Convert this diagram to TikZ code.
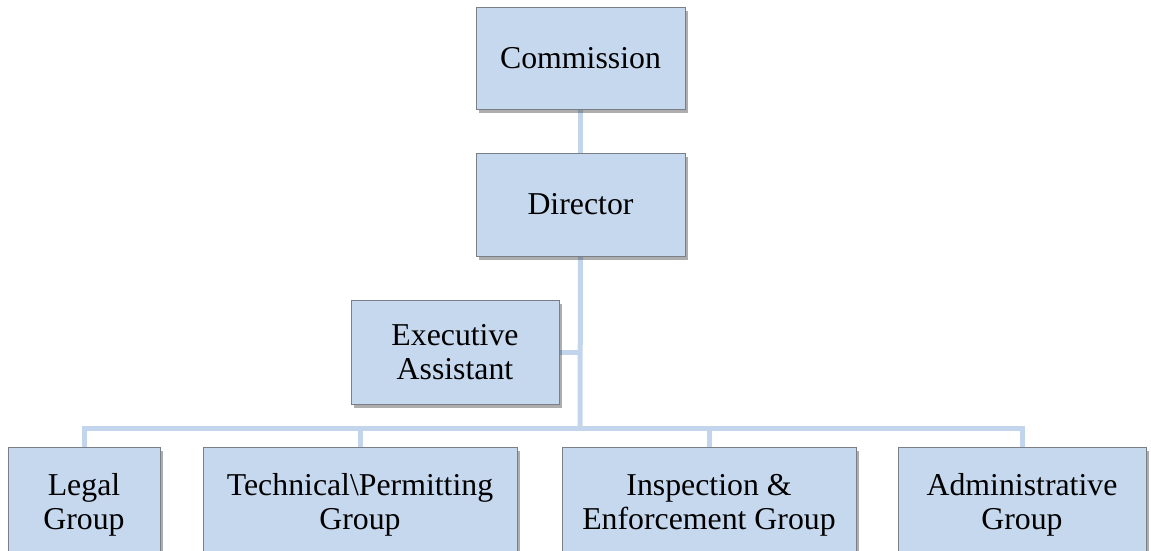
\documentclass[tikz,border=0pt]{standalone}
\usepackage{fontspec}
\setmainfont{Liberation Serif}
\usetikzlibrary{shadows,backgrounds}
\definecolor{boxblue}{HTML}{C6D8EE}
\definecolor{boxedge}{HTML}{7A7F86}
\definecolor{linkblue}{HTML}{C3D5EC}
\tikzset{
  orgbox/.style={draw=boxedge, fill=boxblue, line width=0.9pt, align=center,
    inner sep=0pt, font=\fontsize{31.8}{34}\selectfont,
    drop shadow={shadow xshift=2.5pt, shadow yshift=-3.5pt, opacity=0.4, fill=black!80}},
  link/.style={draw=linkblue, line width=5pt}
}
\begin{document}
\begin{tikzpicture}[x=1pt,y=-1pt]
\useasboundingbox (0,0) rectangle (1151,550);
\node[orgbox, minimum width=209, minimum height=102] (com) at (580.5,58) {Commission};
\node[orgbox, minimum width=209, minimum height=103] (dir) at (580.5,204.5) {Director};
\node[orgbox, minimum width=208, minimum height=104] (ea) at (455,352) {Executive\\Assistant};
\node[orgbox, minimum width=152, minimum height=116] (legal) at (84,505) {Legal\\Group};
\node[orgbox, minimum width=314, minimum height=116] (tech) at (360,505) {Technical\textbackslash Permitting\\Group};
\node[orgbox, minimum width=294, minimum height=116] (insp) at (709,505) {Inspection \&\\Enforcement Group};
\node[orgbox, minimum width=248, minimum height=116] (admin) at (1022,505) {Administrative\\Group};
\coordinate (bus) at (580,428);
\begin{scope}[on background layer]
\draw[link] (com.south) -- (dir.north);
\draw[link] (dir.south) -- (bus);
\draw[link] (ea.east) -- (ea.east -| bus);
\draw[link] (legal.north) |- (bus);
\draw[link] (admin.north) |- (bus);
\draw[link] (tech.north) -- (tech.north |- bus);
\draw[link] (insp.north) -- (insp.north |- bus);
\end{scope}
\end{tikzpicture}
\end{document}
